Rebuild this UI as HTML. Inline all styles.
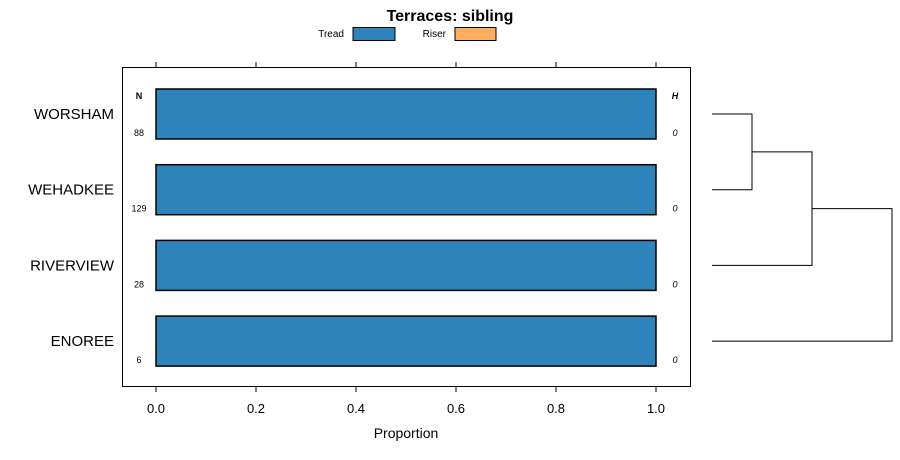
<!DOCTYPE html>
<html><head><meta charset="utf-8"><style>
body{margin:0;background:#fff;}
svg{display:block;font-family:"Liberation Sans",sans-serif;}
</style></head><body>
<svg id="chart" width="900" height="460">
<text x="450" y="21" text-anchor="middle" font-size="16" font-weight="bold">Terraces: sibling</text>
<g>
<text x="344" y="37" text-anchor="end" font-size="10">Tread</text>
<rect x="353" y="27.5" width="42" height="13" fill="#2e83ba" stroke="#000"/>
<text x="446" y="37" text-anchor="end" font-size="10">Riser</text>
<rect x="455" y="27.5" width="41" height="13" fill="#fdae61" stroke="#000"/>
</g>
<rect x="122.5" y="67.5" width="568" height="319" fill="none" stroke="#000"/>
<text x="139" y="99" text-anchor="middle" font-size="9" font-weight="bold">N</text>
<text x="675" y="99" text-anchor="middle" font-size="9" font-weight="bold" font-style="italic">H</text>
<g id="bars"></g><g id="axis"></g><g id="dendro"></g>
<text x="406" y="438" text-anchor="middle" font-size="14">Proportion</text>
</svg>
<script>
const categories=["WORSHAM","WEHADKEE","RIVERVIEW","ENOREE"];
const treadValues=[1,1,1,1];
const riserValues=[0,0,0,0];
const nValues=["88","129","28","6"];
const hValues=["0","0","0","0"];
const tickValues=[0,0.2,0.4,0.6,0.8,1.0];
const tickLabels=["0.0","0.2","0.4","0.6","0.8","1.0"];
const NS="http://www.w3.org/2000/svg";
const xS=v=>156+v*500;
const yC=i=>114+i*75.7;
function mk(tag,attrs,parent,text){const e=document.createElementNS(NS,tag);for(const k in attrs)e.setAttribute(k,attrs[k]);if(text!==undefined)e.textContent=text;parent.appendChild(e);return e;}
const bars=document.getElementById('bars');
categories.forEach((c,i)=>{
 const y=yC(i);
 const t=mk('rect',{x:xS(0),y:y-25,width:xS(treadValues[i])-xS(0),height:50,fill:'#2e83ba',stroke:'#000','stroke-width':1.5},bars);
 
 
 if(riserValues[i]>0){const r=mk('rect',{x:xS(treadValues[i]),y:y-25,width:xS(riserValues[i])-xS(0),height:50,fill:'#fdae61',stroke:'#000','stroke-width':1.5},bars);
 
 }
 const l=mk('text',{x:114,y:y+5,'text-anchor':'end','font-size':15},bars,c);
 
 
 const n=mk('text',{x:139,y:y+22,'text-anchor':'middle','font-size':9},bars,nValues[i]);
 
 
 const h=mk('text',{x:675,y:y+22,'text-anchor':'middle','font-size':9,'font-style':'italic'},bars,hValues[i]);
 
 
});
const ax=document.getElementById('axis');
tickValues.forEach((v,i)=>{
 const x=xS(v);
 const a=mk('line',{x1:x,x2:x,y1:62,y2:67,stroke:'#000'},ax);
 
 
 const b=mk('line',{x1:x,x2:x,y1:387,y2:392,stroke:'#000'},ax);
 
 
 const t=mk('text',{x:x,y:413,'text-anchor':'middle','font-size':13},ax,tickLabels[i]);
 
 
});
const d=document.getElementById('dendro');
const y0=yC(0),y1=yC(1),y2=yC(2),y3=yC(3),m1=(y0+y1)/2,m2=(m1+y2)/2;
const p=mk('path',{d:`M712,${y0}H752V${y1}H712 M752,${m1}H812V${y2}H712 M812,${m2}H892V${y3}H712`,fill:'none',stroke:'#000','stroke-width':1},d);


</script>
</body></html>
